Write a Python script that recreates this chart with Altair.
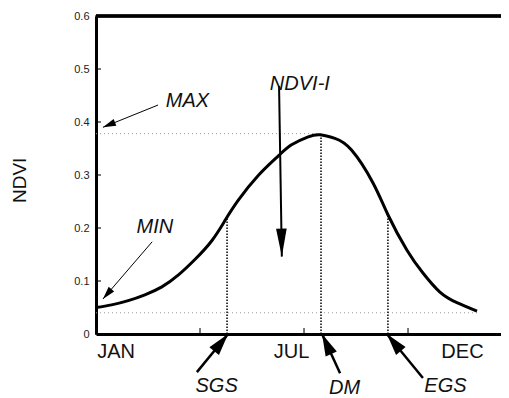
import math
import altair as alt
import pandas as pd

# ---- data ----
months = [0.0, 0.45, 0.93, 1.41, 1.90, 2.37, 2.86, 3.34, 3.72, 4.10, 4.68, 5.26, 5.64,
          6.12, 6.46, 6.89, 7.37, 7.99, 8.42, 8.97, 9.43, 9.92, 10.41, 10.99]
ndvi = [0.050, 0.055, 0.063, 0.074, 0.089, 0.111, 0.141, 0.176, 0.214, 0.252, 0.299, 0.336,
        0.357, 0.372, 0.376, 0.369, 0.347, 0.285, 0.225, 0.158, 0.115, 0.079, 0.059, 0.043]

y_ticks = [0, 0.1, 0.2, 0.3, 0.4, 0.5, 0.6]
x_ticks = [3, 6, 9]

phase_month = [3.78, 6.49, 8.42]
phase_ndvi = [0.220, 0.376, 0.225]

level_ndvi = [0.378, 0.040]
level_end = [6.49, 10.99]

month_labels = ["JAN", "JUL", "DEC"]
month_label_x = [0.58, 5.64, 10.57]
month_label_y = [-0.034, -0.034, -0.034]

note_text = ["MAX", "MIN", "NDVI-I", "SGS", "DM", "EGS"]
note_x = [2.64, 1.70, 5.88, 3.48, 7.17, 10.08]
note_y = [0.440, 0.202, 0.472, -0.098, -0.101, -0.099]

arrow_tail_x = [1.79, 1.62, 5.28, 2.91, 7.04, 9.43]
arrow_tail_y = [0.432, 0.174, 0.468, -0.072, -0.074, -0.083]
arrow_tip_x = [0.20, 0.20, 5.36, 3.81, 6.52, 8.39]
arrow_tip_y = [0.390, 0.066, 0.146, 0.0, 0.0, 0.0]

axis_title = "NDVI"
axis_title_x = -2.18
axis_title_y = 0.29

# ---- layout ----
W, H = 405, 318
XMAX = W / 34.67
YMAX = 0.6
px_m = W / XMAX
px_v = H / YMAX
FONT = "Liberation Sans"

curve = pd.DataFrame({"m": months, "v": ndvi})
phases = pd.DataFrame({"m": phase_month, "v": phase_ndvi, "z": 0.0})
levels = pd.DataFrame({"v": level_ndvi, "m2": level_end, "z": 0.0})
yt = pd.DataFrame({"v": y_ticks, "z": 0.0})
xt = pd.DataFrame({"m": x_ticks, "z": 0.0})
mlab = pd.DataFrame({"m": month_label_x, "v": month_label_y, "t": month_labels})
notes = pd.DataFrame({"m": note_x, "v": note_y, "t": note_text})
title_df = pd.DataFrame({"m": [axis_title_x], "v": [axis_title_y], "t": [axis_title]})

angles = []
for tx, ty, hx, hy in zip(arrow_tail_x, arrow_tail_y, arrow_tip_x, arrow_tip_y):
    dx = (hx - tx) * px_m
    dy_up = (hy - ty) * px_v
    angles.append((math.degrees(math.atan2(dx, dy_up)) + 360) % 360)
arrows = pd.DataFrame({"name": note_text, "tx": arrow_tail_x, "ty": arrow_tail_y,
                       "hx": arrow_tip_x, "hy": arrow_tip_y, "angle": angles})

xscale = alt.Scale(domain=[0, XMAX], nice=False, zero=False)
yscale = alt.Scale(domain=[0, YMAX], nice=False, zero=False)
xaxis = alt.Axis(labels=False, ticks=False, grid=False, title=None, domainWidth=3,
                 domainColor="black")
yaxis = alt.Axis(values=y_ticks, ticks=False, tickSize=0, grid=False, title=None,
                 domainWidth=3, domainColor="black", labelFont=FONT, labelFontSize=11,
                 labelColor="#222", labelPadding=7, labelFlush=False,
                 labelExpr="datum.value == 0 ? '0' : format(datum.value, '.1f')")


def X(f):
    return alt.X(f"{f}:Q", scale=xscale, axis=xaxis)


def Y(f):
    return alt.Y(f"{f}:Q", scale=yscale, axis=yaxis)


level_lines = alt.Chart(levels).mark_rule(color="#999", strokeWidth=1, strokeDash=[1, 3]).encode(
    x=X("z"), x2="m2", y=Y("v"))
phase_lines = alt.Chart(phases).mark_rule(color="black", strokeWidth=1.5, strokeDash=[1.5, 1.5]).encode(
    x=X("m"), y=Y("z"), y2="v")
line = alt.Chart(curve).mark_line(color="black", strokeWidth=3, interpolate="natural").encode(
    x=X("m"), y=Y("v"))
yticks = alt.Chart(yt).mark_tick(orient="horizontal", size=6, thickness=1.5, color="black",
                                 xOffset=2).encode(x=X("z"), y=Y("v"))
xticks = alt.Chart(xt).mark_tick(orient="vertical", size=6, thickness=1.5, color="black",
                                 yOffset=-3).encode(x=X("m"), y=Y("z"))
top_border = alt.Chart(yt).mark_rule(color="black", strokeWidth=2.5).encode(
    x=alt.value(0), x2=alt.value(W), y=alt.value(0))

thin = ["MAX", "MIN"]
mid = ["NDVI-I"]
thick = ["SGS", "DM", "EGS"]


def shafts(names, width):
    return alt.Chart(arrows).transform_filter(
        alt.FieldOneOfPredicate(field="name", oneOf=names)
    ).mark_rule(color="black", strokeWidth=width).encode(
        x=X("tx"), y=Y("ty"), x2="hx", y2="hy")


def heads(names, length, ratio):
    path = f"M0,0 L{-ratio},1 L{ratio},1 Z"
    return alt.Chart(arrows).transform_filter(
        alt.FieldOneOfPredicate(field="name", oneOf=names)
    ).mark_point(shape=path, filled=True, color="black", opacity=1, strokeWidth=0,
                 size=(2 * length) ** 2).encode(
        x=X("hx"), y=Y("hy"), angle=alt.Angle("angle:Q", scale=None))


month_text = alt.Chart(mlab).mark_text(font=FONT, fontSize=20, color="#111", align="center",
                                       baseline="middle").encode(x=X("m"), y=Y("v"), text="t:N")
note_texts = alt.Chart(notes).mark_text(font=FONT, fontSize=20, fontStyle="italic", color="#111",
                                        align="center", baseline="middle").encode(
    x=X("m"), y=Y("v"), text="t:N")
ytitle = alt.Chart(title_df).mark_text(font=FONT, fontSize=19, color="#111", angle=270,
                                       align="center", baseline="middle").encode(
    x=X("m"), y=Y("v"), text="t:N")

chart = alt.layer(
    level_lines, phase_lines, line, yticks, xticks, top_border,
    shafts(thin, 1), shafts(mid, 2), shafts(thick, 2.5),
    heads(thin, 13, 0.28), heads(mid, 28, 0.19), heads(thick, 22, 0.28),
    month_text, note_texts, ytitle,
).properties(
    width=W, height=H,
    autosize=alt.AutoSizeParams(type="none"),
    padding={"left": 88, "top": 8, "right": 0, "bottom": 64},
).configure_view(stroke=None).configure(background="white")

chart.save("out.html", embed_options={"renderer": "svg", "actions": False})
